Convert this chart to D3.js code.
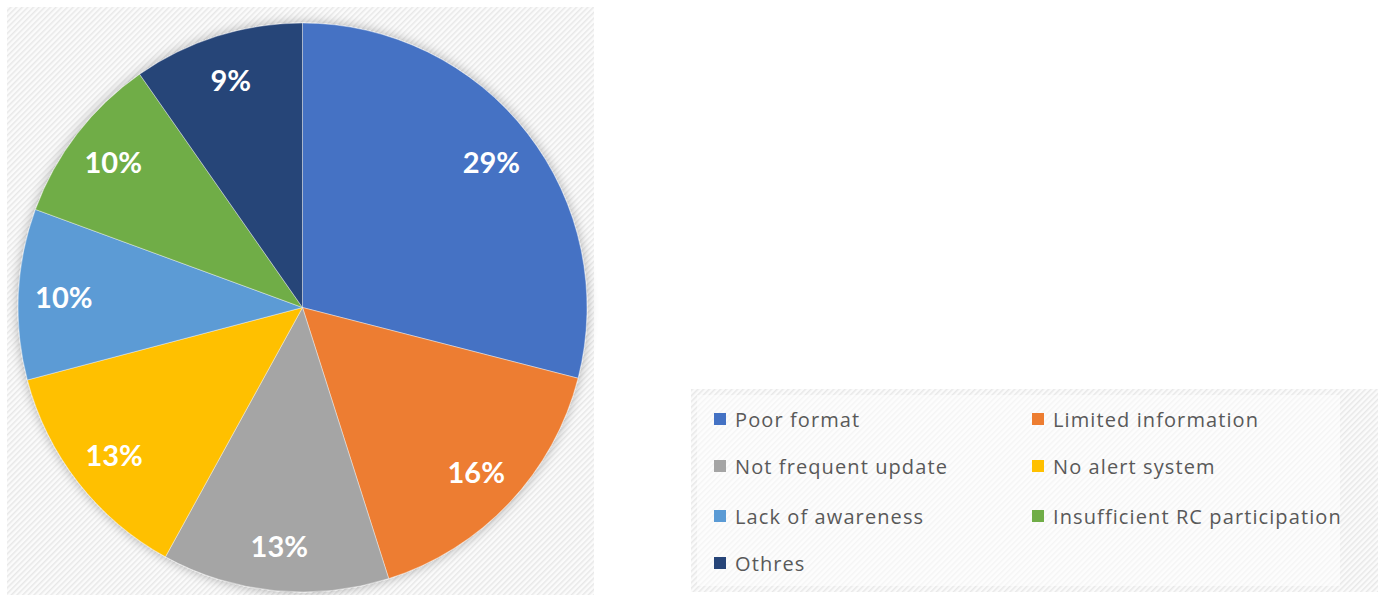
<!DOCTYPE html>
<html><head><meta charset="utf-8">
<script src="https://cdn.jsdelivr.net/npm/d3@7"></script>
<style>html,body{margin:0;padding:0;background:#fff;overflow:hidden}</style>
</head><body>
<svg id="c" width="1384" height="595"></svg>
<script>
const categories = ["Poor format","Limited information","Not frequent update","No alert system","Lack of awareness","Insufficient RC participation","Othres"];
const values = [29.0,16.1,12.9,12.9,9.7,9.7,9.7];
const labels = ["29%","16%","13%","13%","10%","10%","9%"];
const colors = ["#4472C4","#ED7D31","#A5A5A5","#FFC000","#5B9BD5","#70AD47","#264478"];

const svg = d3.select("#c");
const defs = svg.append("defs");
const pat = defs.append("pattern").attr("id","hatch").attr("patternUnits","userSpaceOnUse")
  .attr("width",4).attr("height",4).attr("patternTransform","rotate(45)");
pat.append("rect").attr("width",4).attr("height",4).attr("fill","#fbfbfb");
pat.append("rect").attr("width",1.5).attr("height",4).attr("fill","#e8e8e8");
const sh = defs.append("filter").attr("id","shadow").attr("x","-20%").attr("y","-20%").attr("width","140%").attr("height","140%");
sh.append("feGaussianBlur").attr("in","SourceAlpha").attr("stdDeviation",6).attr("result","b");
sh.append("feComponentTransfer").attr("in","b").attr("result","b2").append("feFuncA").attr("type","linear").attr("slope",0.3);
const m = sh.append("feMerge"); m.append("feMergeNode").attr("in","b2"); m.append("feMergeNode").attr("in","SourceGraphic");

// chart area background
svg.append("rect").attr("x",7).attr("y",7).attr("width",587).attr("height",590).attr("fill","url(#hatch)");

const cx = 302.5, cy = 307.5, R = 284.5;
const pie = d3.pie().sort(null).value(d=>d)(values);
const arc = d3.arc().innerRadius(0).outerRadius(R);
const labArc = d3.arc().innerRadius(239).outerRadius(239);
const g = svg.append("g").attr("transform",`translate(${cx},${cy})`);
g.append("g").attr("filter","url(#shadow)").selectAll("path").data(pie).join("path")
  .attr("d",arc).attr("fill",(d,i)=>colors[i]).attr("stroke","#ffffff").attr("stroke-opacity",0.5).attr("stroke-width",0.8);
g.selectAll("text").data(pie).join("text")
  .attr("transform",d=>`translate(${labArc.centroid(d)})`)
  .attr("text-anchor","middle").attr("dominant-baseline","central")
  .attr("font-family","Lato, 'Open Sans', sans-serif").attr("font-weight","bold").attr("font-size",29)
  .attr("fill","#ffffff").text((d,i)=>labels[i]);

// legend
svg.append("rect").attr("x",691).attr("y",389).attr("width",687).attr("height",203).attr("fill","url(#hatch)");
svg.append("rect").attr("x",697).attr("y",395).attr("width",643).attr("height",191).attr("fill","#ffffff").attr("opacity",0.55);
const colX = [714, 1032], rowY = [419, 466, 516, 563];
const lg = svg.append("g");
categories.forEach((c,i)=>{
  const x = colX[i%2], y = rowY[Math.floor(i/2)];
  lg.append("rect").attr("x",x).attr("y",y-6).attr("width",12).attr("height",12).attr("fill",colors[i]);
  lg.append("text").attr("x",x+21).attr("y",y).attr("dominant-baseline","central")
    .attr("font-family","'Open Sans', sans-serif").attr("font-size",20).attr("letter-spacing",1.1)
    .attr("fill","#595959").text(c);
});
</script>
</body></html>
